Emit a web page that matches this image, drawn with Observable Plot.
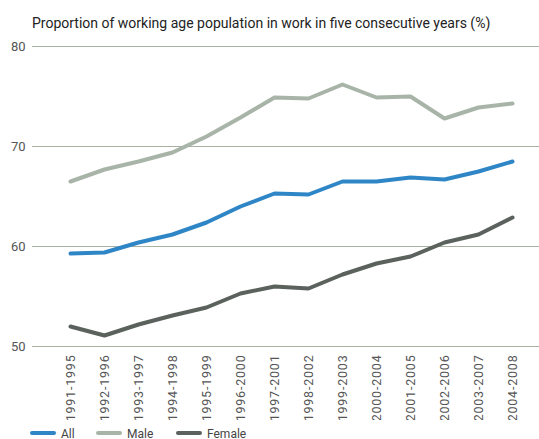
<!DOCTYPE html>
<html>
<head>
<meta charset="utf-8">
<script src="https://cdn.jsdelivr.net/npm/d3@7"></script>
<script src="https://cdn.jsdelivr.net/npm/@observablehq/plot@0.6"></script>
<style>
  body { margin: 0; background: #fff; font-family: Roboto, "DejaVu Sans", sans-serif; }
  #wrap { position: relative; width: 539px; height: 439px; overflow: hidden; }
  #title { position: absolute; left: 32px; top: 15px; font-size: 14px; color: #222; white-space: nowrap; }
  #chart { position: absolute; left: 0; top: 0; }
  #legend { position: absolute; left: 0; top: 425px; width: 539px; height: 14px; }
  .xax text { letter-spacing: 0.8px; }
</style>
</head>
<body>
<div id="wrap">
  <div id="chart"></div>
  <div id="title">Proportion of working age population in work in five consecutive years (%)</div>
  <svg id="legend" width="539" height="14"></svg>
</div>
<script>
const periods = ["1991-1995","1992-1996","1993-1997","1994-1998","1995-1999","1996-2000","1997-2001","1998-2002","1999-2003","2000-2004","2001-2005","2002-2006","2003-2007","2004-2008"];
const allValues = [59.3, 59.4, 60.4, 61.2, 62.4, 64.0, 65.3, 65.2, 66.5, 66.5, 66.9, 66.7, 67.5, 68.5];
const maleValues = [66.5, 67.7, 68.5, 69.4, 71.0, 72.9, 74.9, 74.8, 76.2, 74.9, 75.0, 72.8, 73.9, 74.3];
const femaleValues = [52.0, 51.1, 52.2, 53.1, 53.9, 55.3, 56.0, 55.8, 57.2, 58.3, 59.0, 60.4, 61.2, 62.9];
const seriesNames = ["All", "Male", "Female"];
const seriesColors = ["#2f86c6", "#a9b4a9", "#5b615c"];
const yTicks = [50, 60, 70, 80];

const seriesValues = [allValues, maleValues, femaleValues];
const data = seriesNames.flatMap((name, i) =>
  periods.map((p, j) => ({period: p, value: seriesValues[i][j], series: name})));

const plot = Plot.plot({
  width: 539,
  height: 420,
  marginTop: 46,
  marginBottom: 74,
  marginLeft: 32,
  marginRight: 0,
  style: {fontFamily: "Roboto, 'DejaVu Sans', sans-serif", fontSize: "12px", color: "#555", background: "transparent"},
  x: {type: "point", domain: periods, range: [50, 531], label: null},
  y: {domain: [50, 80], ticks: yTicks, label: null},
  color: {domain: seriesNames, range: seriesColors},
  marks: [
    Plot.ruleY(yTicks, {stroke: "#a8b0a2", strokeWidth: 1}),
    Plot.line(data, {x: "period", y: "value", z: "series", stroke: "series", strokeWidth: 4, strokeLinejoin: "round", strokeLinecap: "round"}),
    Plot.axisY({ticks: yTicks, tickSize: 0, tickPadding: 7, fontSize: 13, fill: "#555", label: null}),
    Plot.axisX({tickSize: 0, tickRotate: -90, tickPadding: 8, fontSize: 12.5, fill: "#555", label: null, className: "xax"})
  ]
});
document.getElementById("chart").appendChild(plot);

// legend
const leg = d3.select("#legend");
const legX = [30, 96, 176];
seriesNames.forEach((name, i) => {
  const g = leg.append("g").attr("transform", `translate(${legX[i]},8)`);
  g.append("line").attr("x1", 2).attr("x2", 24).attr("y1", 0).attr("y2", 0)
    .attr("stroke", seriesColors[i]).attr("stroke-width", 4).attr("stroke-linecap", "round");
  g.append("text").attr("x", 31).attr("y", 4.5).attr("font-size", 12)
    .attr("font-family", "Roboto, 'DejaVu Sans', sans-serif").attr("fill", "#444").text(name);
});
</script>
</body>
</html>
